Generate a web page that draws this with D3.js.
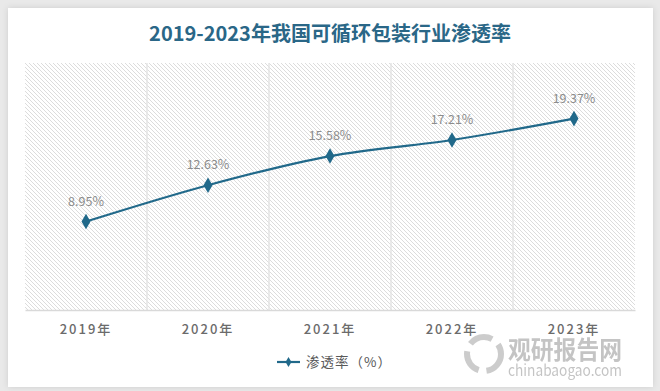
<!DOCTYPE html>
<html>
<head>
<meta charset="utf-8">
<script src="https://cdn.jsdelivr.net/npm/d3@7"></script>
<style>
  body { margin: 0; background: #e9e9e9; }
  svg { display: block; }
</style>
</head>
<body>
<svg width="660" height="391"></svg>
<script>
var years = ["2019年", "2020年", "2021年", "2022年", "2023年"];
var rates = [8.95, 12.63, 15.58, 17.21, 19.37];
var yDomain = [0, 25];
var title = "2019-2023年我国可循环包装行业渗透率";
var seriesName = "渗透率（%）";

var svg = d3.select("svg");
var font = "'Noto Sans CJK SC', 'Noto Sans', sans-serif";

var defs = svg.append("defs");
defs.append("filter").attr("id", "shadow")
    .attr("x", "-5%").attr("y", "-5%").attr("width", "110%").attr("height", "110%")
  .append("feDropShadow")
    .attr("dx", 0).attr("dy", 0).attr("stdDeviation", 3)
    .attr("flood-color", "#000").attr("flood-opacity", 0.12);

var pat = defs.append("pattern").attr("id", "hatch")
    .attr("patternUnits", "userSpaceOnUse")
    .attr("width", 4).attr("height", 4);
pat.append("rect").attr("width", 4).attr("height", 4).attr("fill", "#fff");
pat.append("path")
    .attr("d", "M-1,-1 L5,5 M-1,3 L1,5 M3,-1 L5,1")
    .attr("stroke", "#dcdcdc").attr("stroke-width", 1);

// card
svg.append("rect")
    .attr("x", 8).attr("y", 8).attr("width", 645).attr("height", 379)
    .attr("fill", "#fff").attr("filter", "url(#shadow)");

svg.append("text")
    .attr("x", 330).attr("y", 41)
    .attr("text-anchor", "middle")
    .attr("font-family", font)
    .attr("font-size", 20).attr("font-weight", "bold")
    .attr("fill", "#2a6787")
    .text(title);

var margin = {top: 63, right: 25, bottom: 81, left: 25},
    width = 660 - margin.left - margin.right,
    height = 391 - margin.top - margin.bottom;

var x = d3.scaleBand().domain(years).range([0, width]);
var y = d3.scaleLinear().domain(yDomain).range([height, 0]);

var g = svg.append("g")
    .attr("transform", "translate(" + margin.left + "," + margin.top + ")");

g.append("rect")
    .attr("width", width).attr("height", height)
    .attr("fill", "url(#hatch)");

// category boundaries
g.selectAll(".grid").data(years.slice(1)).enter().append("line")
    .attr("class", "grid")
    .attr("x1", function(d) { return x(d); })
    .attr("x2", function(d) { return x(d); })
    .attr("y1", 0).attr("y2", height)
    .attr("stroke", "#e4e4e4").attr("stroke-width", 1.5);

var xAxis = d3.axisBottom(x).tickSize(0).tickPadding(15);
var ax = g.append("g")
    .attr("transform", "translate(0," + height + ")")
    .call(xAxis);
ax.select(".domain").attr("stroke", "#d9d9d9").attr("stroke-width", 1.5);
ax.selectAll("text")
    .attr("font-family", font)
    .attr("font-size", 13)
    .attr("font-weight", 500)
    .attr("letter-spacing", "2px")
    .attr("fill", "#6b6b6b");

var cx = function(d, i) { return x(years[i]) + x.bandwidth() / 2; };

var line = d3.line()
    .x(cx)
    .y(function(d) { return y(d); })
    .curve(d3.curveMonotoneX);

g.append("path")
    .datum(rates)
    .attr("fill", "none")
    .attr("stroke", "#21698a")
    .attr("stroke-width", 2.2)
    .attr("d", line);

var diamond = d3.symbol().type(d3.symbolDiamond).size(70);
g.selectAll(".pt").data(rates).enter().append("path")
    .attr("class", "pt")
    .attr("transform", function(d, i) {
      return "translate(" + cx(d, i) + "," + y(d) + ")";
    })
    .attr("d", diamond)
    .attr("fill", "#21698a");

g.selectAll(".label").data(rates).enter().append("text")
    .attr("class", "label")
    .attr("x", cx)
    .attr("y", function(d) { return y(d) - 16; })
    .attr("text-anchor", "middle")
    .attr("font-family", font)
    .attr("font-size", 12.5)
    .attr("fill", "#8c8c8c")
    .text(function(d) { return d.toFixed(2) + "%"; });

// legend
var lg = svg.append("g").attr("transform", "translate(277,362)");
lg.append("line").attr("x1", 0).attr("x2", 23).attr("y1", 0).attr("y2", 0)
    .attr("stroke", "#21698a").attr("stroke-width", 2.2);
lg.append("path").attr("transform", "translate(11.5,0)")
    .attr("d", d3.symbol().type(d3.symbolDiamond).size(30))
    .attr("fill", "#21698a");
lg.append("text").attr("x", 29).attr("y", 5)
    .attr("font-family", font).attr("font-size", 13.5)
    .attr("letter-spacing", "1px")
    .attr("fill", "#595959")
    .text(seriesName);

// watermark
var wm = svg.append("g").attr("opacity", 0.5);
wm.append("circle").attr("cx", 484).attr("cy", 354).attr("r", 17)
    .attr("fill", "none").attr("stroke", "#9a9a9a").attr("stroke-width", 6)
    .attr("stroke-dasharray", "24 8");
wm.append("text").attr("x", 508).attr("y", 359)
    .attr("font-family", font).attr("font-size", 25).attr("font-weight", "bold")
    .attr("fill", "#8a8a8a")
    .attr("textLength", 114).attr("lengthAdjust", "spacingAndGlyphs")
    .text("观研报告网");
wm.append("text").attr("x", 508).attr("y", 376)
    .attr("font-family", font).attr("font-size", 15)
    .attr("fill", "#8a8a8a")
    .attr("textLength", 114).attr("lengthAdjust", "spacingAndGlyphs")
    .text("chinabaogao.com");
</script>
</body>
</html>
